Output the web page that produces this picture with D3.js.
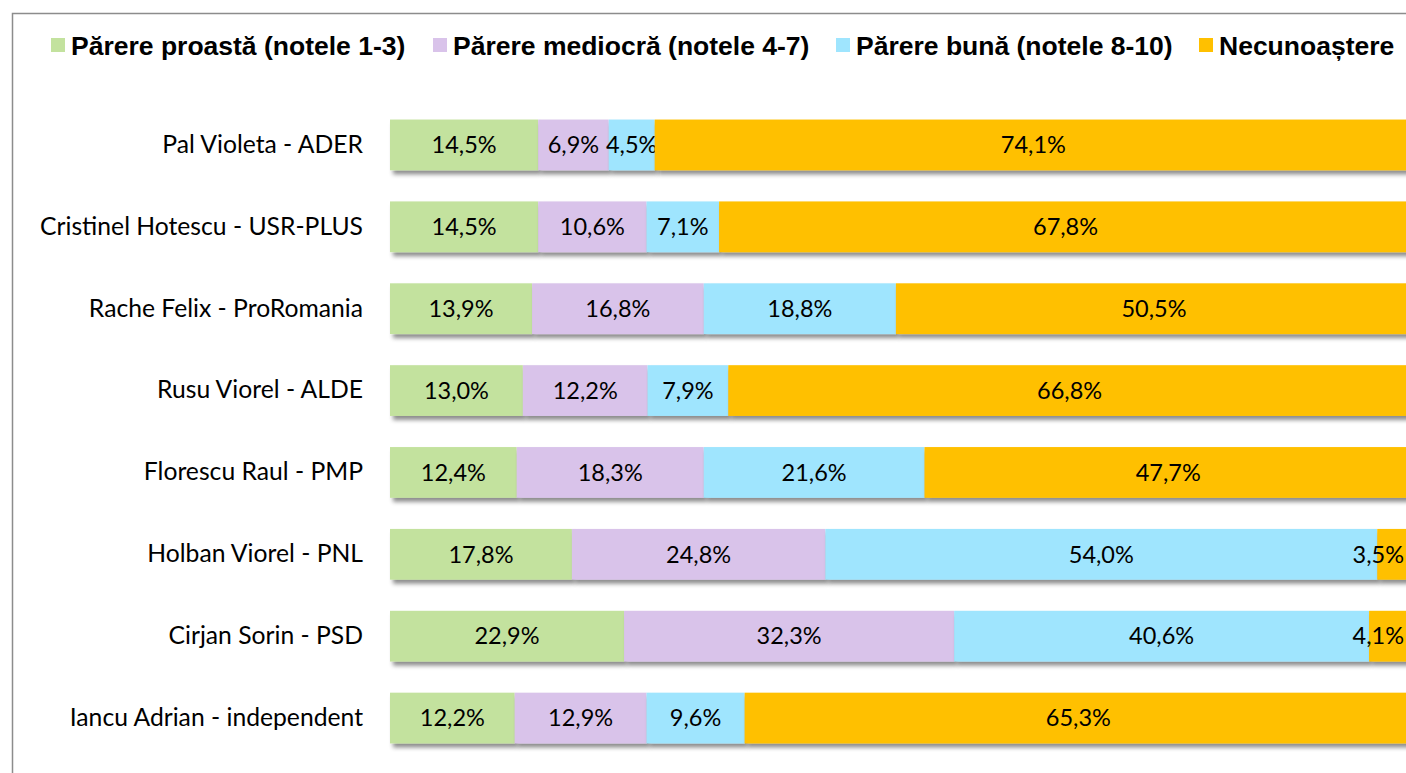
<!DOCTYPE html>
<html>
<head>
<meta charset="utf-8">
<script src="https://cdn.jsdelivr.net/npm/d3@7"></script>
<style>
  body { margin: 0; background: #fff; }
  svg { display: block; }
</style>
</head>
<body>
<script>
// candidates, top to bottom
var candidates = ["Pal Violeta - ADER", "Cristinel Hotescu - USR-PLUS", "Rache Felix - ProRomania",
    "Rusu Viorel - ALDE", "Florescu Raul - PMP", "Holban Viorel - PNL", "Cirjan Sorin - PSD",
    "Iancu Adrian - independent"];
var seriesNames = ["Părere proastă (notele 1-3)", "Părere mediocră (notele 4-7)",
    "Părere bună (notele 8-10)", "Necunoaștere"];
var proasta = [14.5, 14.5, 13.9, 13.0, 12.4, 17.8, 22.9, 12.2];
var mediocra = [6.9, 10.6, 16.8, 12.2, 18.3, 24.8, 32.3, 12.9];
var buna = [4.5, 7.1, 18.8, 7.9, 21.6, 54.0, 40.6, 9.6];
var necunoastere = [74.1, 67.8, 50.5, 66.8, 47.7, 3.5, 4.1, 65.3];
var colours = ["#C3E29E", "#D9C3EA", "#9FE5FE", "#FFC000"];

var width = 1406, height = 773;
var svg = d3.select("body").append("svg").attr("width", width).attr("height", height);

var defs = svg.append("defs");
defs.append("filter").attr("id", "shadow")
    .attr("x", "-5%").attr("y", "-20%").attr("width", "115%").attr("height", "160%")
    .append("feDropShadow")
    .attr("dx", 3).attr("dy", 4).attr("stdDeviation", 2.2)
    .attr("flood-color", "#000").attr("flood-opacity", 0.45);

// chart frame (cut off on right and bottom)
svg.append("path").attr("d", "M12.5,780V13.5H1420")
    .attr("fill", "none").attr("stroke", "#8c8c8c").attr("stroke-width", 1.5);

var x = d3.scaleLinear().domain([0, 100]).range([390, 1412]);
var y = d3.scaleBand().domain(candidates).range([104, 759]).paddingInner(0.38).paddingOuter(0.19);

var rows = candidates.map(function(c, i) {
    return { name: c, s0: proasta[i], s1: mediocra[i], s2: buna[i], s3: necunoastere[i] };
});
var stack = d3.stack().keys(["s0", "s1", "s2", "s3"])(rows);

var layer = svg.selectAll(".layer").data(stack).enter().append("g")
    .attr("class", "layer").attr("fill", function(d, i) { return colours[i]; });

layer.selectAll("rect").data(function(d) { return d; }).enter().append("rect")
    .attr("x", function(d) { return x(d[0]); })
    .attr("width", function(d) { return x(d[1]) - x(d[0]); })
    .attr("y", function(d) { return y(d.data.name); })
    .attr("height", y.bandwidth())
    .attr("filter", "url(#shadow)");

var fmt = function(v) { return v.toFixed(1).replace(".", ",") + "%"; };
var labels = layer.selectAll("text").data(function(d) { return d; }).enter().append("text")
    .attr("x", function(d) { return (x(d[0]) + x(d[1])) / 2; })
    .attr("y", function(d) { return y(d.data.name) + y.bandwidth() / 2; })
    .attr("dy", "0.35em")
    .attr("text-anchor", "middle")
    .attr("fill", "#000")
    .style("font-family", "Lato, 'Open Sans', sans-serif")
    .style("font-size", "23.5px")
    .text(function(d) { return fmt(d[1] - d[0]); });
// keep labels inside the visible area
labels.each(function() {
    var t = d3.select(this), half = this.getComputedTextLength() / 2;
    if (+t.attr("x") + half > width - 2) t.attr("x", width - 2 - half);
});

// category axis
var axis = svg.append("g").attr("transform", "translate(363,0)")
    .call(d3.axisLeft(y).tickSize(0).tickPadding(0));
axis.select(".domain").remove();
axis.selectAll("text").attr("fill", "#000")
    .style("font-family", "Lato, 'Open Sans', sans-serif").style("font-size", "24.7px");

// legend
var legendX = [51, 433, 836, 1199];
var legend = svg.selectAll(".legend").data(seriesNames).enter().append("g")
    .attr("class", "legend")
    .attr("transform", function(d, i) { return "translate(" + legendX[i] + ",38)"; });
legend.append("rect").attr("width", 14).attr("height", 14)
    .attr("fill", function(d, i) { return colours[i]; });
legend.append("text").attr("x", 20).attr("y", 7).attr("dy", "0.36em")
    .style("font-family", "'Liberation Sans', Arial, sans-serif")
    .style("font-weight", "bold").style("font-size", "26.5px")
    .attr("fill", "#000")
    .text(function(d) { return d; });
</script>
</body>
</html>
